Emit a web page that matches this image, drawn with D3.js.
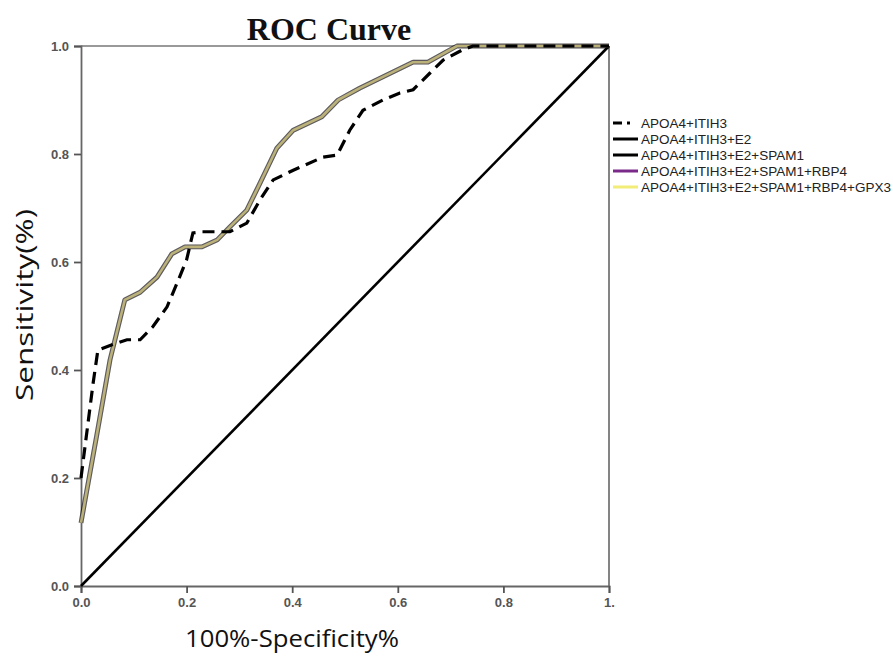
<!DOCTYPE html>
<html>
<head>
<meta charset="utf-8">
<script src="https://cdn.jsdelivr.net/npm/d3@7"></script>
<style>
  html, body { margin: 0; padding: 0; background: #fff; }
  svg { display: block; }
</style>
</head>
<body>
<svg id="chart" width="893" height="657"></svg>
<script>
// ---- data ----
const xTicks = [0, 0.2, 0.4, 0.6, 0.8, 1.0];
const yTicks = [0, 0.2, 0.4, 0.6, 0.8, 1.0];
const xTickLabels = ["0.0", "0.2", "0.4", "0.6", "0.8", "1."];
const yTickLabels = ["0.0", "0.2", "0.4", "0.6", "0.8", "1.0"];

// APOA4+ITIH3 (dashed)
const dashFpr = [0, 0.023, 0.032, 0.06, 0.087, 0.112, 0.136, 0.163, 0.182, 0.2, 0.212, 0.23, 0.282, 0.314, 0.339, 0.364, 0.402, 0.458, 0.485, 0.509, 0.534, 0.572, 0.604, 0.629, 0.661, 0.686, 0.723, 0.742, 1.0];
const dashTpr = [0.2, 0.376, 0.437, 0.447, 0.456, 0.456, 0.48, 0.517, 0.561, 0.604, 0.654, 0.656, 0.656, 0.672, 0.715, 0.752, 0.77, 0.794, 0.798, 0.844, 0.881, 0.9, 0.913, 0.919, 0.95, 0.974, 0.993, 1.0, 1.0];

// combined models (overlapping curves)
const combFpr = [0, 0.03, 0.055, 0.083, 0.112, 0.144, 0.172, 0.197, 0.229, 0.258, 0.282, 0.314, 0.339, 0.371, 0.402, 0.456, 0.487, 0.528, 0.629, 0.657, 0.712, 1.0];
const combTpr = [0.117, 0.28, 0.419, 0.53, 0.544, 0.572, 0.615, 0.628, 0.628, 0.641, 0.665, 0.696, 0.746, 0.811, 0.844, 0.869, 0.9, 0.922, 0.97, 0.97, 1.0, 1.0];

// reference line
const refFpr = [0, 1];
const refTpr = [0, 1];

const seriesNames = ["APOA4+ITIH3", "APOA4+ITIH3+E2", "APOA4+ITIH3+E2+SPAM1", "APOA4+ITIH3+E2+SPAM1+RBP4", "APOA4+ITIH3+E2+SPAM1+RBP4+GPX3"];
const seriesColors = ["#000000", "#000000", "#000000", "#7a2a88", "#f2ec78"];

// ---- drawing ----
const svg = d3.select("#chart");
const x = d3.scaleLinear().domain([0, 1]).range([81, 609]);
const y = d3.scaleLinear().domain([0, 1]).range([586, 46]);

const toPts = (xs, ys) => xs.map((v, i) => [v, ys[i]]);
const line = d3.line().x(d => x(d[0])).y(d => y(d[1]));

// frame (top & right)
svg.append("line").attr("x1", x(0)).attr("x2", x(1)).attr("y1", y(1)).attr("y2", y(1))
  .attr("stroke", "#777").attr("stroke-width", 1.6);
svg.append("line").attr("x1", x(1)).attr("x2", x(1)).attr("y1", y(1)).attr("y2", y(0))
  .attr("stroke", "#777").attr("stroke-width", 1.8);

// axes
const xAxis = d3.axisBottom(x).tickValues(xTicks).tickSize(7).tickPadding(5)
  .tickFormat((d, i) => xTickLabels[i]);
const yAxis = d3.axisLeft(y).tickValues(yTicks).tickSize(7).tickPadding(5)
  .tickFormat((d, i) => yTickLabels[i]);

const gx = svg.append("g").attr("transform", `translate(0,${y(0)})`).call(xAxis);
const gy = svg.append("g").attr("transform", `translate(${x(0)},0)`).call(yAxis);
[gx, gy].forEach(g => {
  g.select(".domain").attr("stroke", "#666").attr("stroke-width", 1.8);
  g.selectAll(".tick line").attr("stroke", "#555").attr("stroke-width", 1.8);
  g.selectAll(".tick text").attr("fill", "#555").attr("font-family", "Liberation Sans, Arial, sans-serif")
    .attr("font-size", 13).attr("font-weight", "bold");
});

// reference diagonal
svg.append("path").datum(toPts(refFpr, refTpr)).attr("d", line)
  .attr("fill", "none").attr("stroke", "#000").attr("stroke-width", 2.6);

// combined curves: drawn stacked
const comb = toPts(combFpr, combTpr);
svg.append("path").datum(comb).attr("d", line).attr("fill", "none")
  .attr("stroke", seriesColors[1]).attr("stroke-width", 4.8).attr("stroke-linejoin", "round").attr("opacity", 0.55);
svg.append("path").datum(comb).attr("d", line).attr("fill", "none")
  .attr("stroke", seriesColors[2]).attr("stroke-width", 4.8).attr("stroke-linejoin", "round").attr("opacity", 0.2);
svg.append("path").datum(comb).attr("d", line).attr("fill", "none")
  .attr("stroke", seriesColors[3]).attr("stroke-width", 3.4).attr("stroke-linejoin", "round").attr("opacity", 0.12);
svg.append("path").datum(comb).attr("d", line).attr("fill", "none")
  .attr("stroke", "#c4bd7c").attr("stroke-width", 2.6).attr("stroke-linejoin", "round").attr("opacity", 0.9);

// dashed curve
svg.append("path").datum(toPts(dashFpr, dashTpr)).attr("d", line)
  .attr("fill", "none").attr("stroke", "#000").attr("stroke-width", 3.2)
  .attr("stroke-dasharray", "12,7");

// title
svg.append("text").attr("x", 329).attr("y", 40).attr("text-anchor", "middle")
  .attr("font-family", "Liberation Serif, Times New Roman, serif").attr("font-weight", "bold")
  .attr("font-size", 32).attr("fill", "#111").text("ROC Curve");

// axis titles
svg.append("text").attr("x", 292).attr("y", 647).attr("text-anchor", "middle")
  .attr("font-family", "Open Sans, Noto Sans, sans-serif").attr("font-size", 24).attr("fill", "#111")
  .attr("textLength", 214).attr("lengthAdjust", "spacingAndGlyphs")
  .text("100%-Specificity%");
svg.append("text").attr("transform", "translate(33,305) rotate(-90)").attr("text-anchor", "middle")
  .attr("font-family", "Open Sans, Noto Sans, sans-serif").attr("font-size", 24).attr("fill", "#111")
  .attr("textLength", 192).attr("lengthAdjust", "spacingAndGlyphs")
  .text("Sensitivity(%)");

// legend
const legY0 = 123, legDy = 16;
const leg = svg.append("g");
seriesNames.forEach((name, i) => {
  const yy = legY0 + i * legDy;
  const ln = leg.append("line").attr("x1", 613).attr("x2", 638).attr("y1", yy).attr("y2", yy)
    .attr("stroke", seriesColors[i]).attr("stroke-width", 3);
  if (i === 0) ln.attr("stroke-dasharray", "9,5,3,20");
  leg.append("text").attr("x", 641).attr("y", yy + 5)
    .attr("font-family", "Liberation Sans, Arial, sans-serif").attr("font-size", 13.5).attr("fill", "#222")
    .text(name);
});
</script>
</body>
</html>
